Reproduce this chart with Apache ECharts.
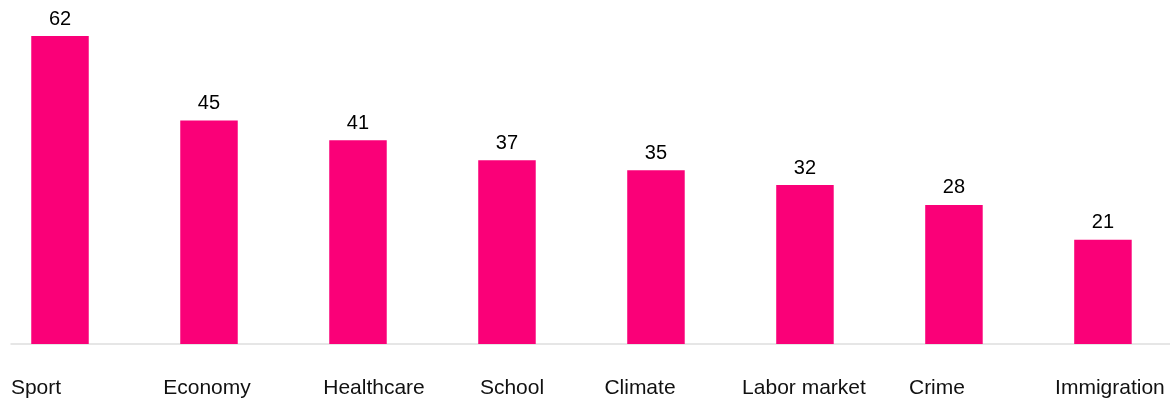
<!DOCTYPE html>
<html><head><meta charset="utf-8">
<script src="https://cdn.jsdelivr.net/npm/echarts@6/dist/echarts.min.js"></script>
<style>html,body{margin:0;padding:0;background:#fff}#c{width:1170px;height:399px}</style>
</head><body><div id="c"></div>
<script>
var categories = ['Sport','Economy','Healthcare','School','Climate','Labor market','Crime','Immigration'];
var values = [62,45,41,37,35,32,28,21];

// horizontal nudge of each category label relative to its bar (px)
var labelShift = [-24,-2,16,5,-16,-1,-17,7];

var rich = {};
labelShift.forEach(function(s,i){
  rich['l'+i] = {fontFamily:'Liberation Sans, Arial, sans-serif', fontSize:21, color:'#111',
    padding: s < 0 ? [0, -2*s, 0, 0] : [0, 0, 0, 2*s]};
});

var chart = echarts.init(document.getElementById('c'));
chart.setOption({
  animation:false,
  grid:{left:11, right:0, top:36, bottom:54.5},
  xAxis:{type:'value', min:-0.3289, max:7.45,
    splitLine:{show:false},
    axisLine:{show:true, lineStyle:{color:'#dedede', width:1.5}},
    axisTick:{show:false},
    axisLabel:{customValues:categories.map(function(c,i){return i;}), margin:34,
      formatter:function(v){var i=Math.round(v); return '{l'+i+'|'+categories[i]+'}';},
      rich:rich}
  },
  yAxis:{type:'value', min:0, max:62, show:false},
  series:[{type:'bar', barWidth:57.5,
    data:values.map(function(v,i){return [i,v];}),
    itemStyle:{color:'#fa0078'},
    label:{show:true, position:'top', distance:7, color:'#000', fontSize:20,
      fontFamily:'Liberation Sans, Arial, sans-serif',
      formatter:function(p){return p.value[1];}}
  }]
});
</script></body></html>
